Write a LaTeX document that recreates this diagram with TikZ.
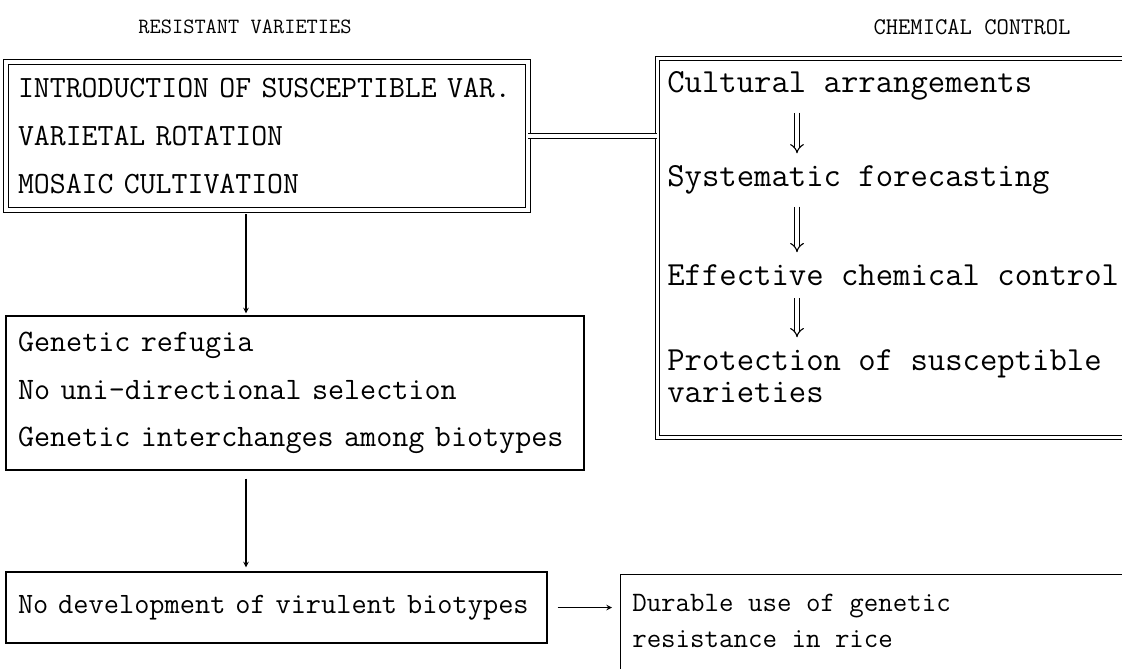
\documentclass[tikz,border=0pt]{standalone}
\usetikzlibrary{arrows.meta}
\tikzset{
  head/.style={font=\fontsize{#1}{#1}\selectfont\ttfamily},
  ltext/.style={font=\fontsize{#1}{34}\selectfont\ttfamily},
  rtext/.style={font=\fontsize{24}{22.7}\selectfont\ttfamily, anchor=west, inner sep=0pt, align=left},
  sbox/.style={draw, line width=0.9pt, inner xsep=0.3cm, align=left},
  dbox/.style={draw, double, double distance=2.4pt, line width=0.7pt, inner xsep=0.3cm, align=left},
  dblarrow/.style={double, double distance=2.6pt, line width=0.8pt, -{Implies[length=7pt, width=15pt]}, shorten <=0.3cm, shorten >=0.3cm},
}
\begin{document}
\begin{tikzpicture}
  \clip (0,0) rectangle (28.05,16.7);

  % headings
  \node[head=15.5] (hleft) at (6.125,16.03) {RESISTANT VARIETIES};
  \node[head=17] (hright) at (24.3,16.03) {CHEMICAL CONTROL};

  % left column
  \node[dbox, ltext=22, minimum width=13.05cm, minimum height=3.7cm, text width=12.45cm] (res) at (6.675,13.3)
    {INTRODUCTION OF SUSCEPTIBLE VAR.\\VARIETAL ROTATION\\MOSAIC CULTIVATION};
  \node[sbox, ltext=22.2, minimum width=14.45cm, minimum height=3.85cm, text width=13.85cm] (gen) at (7.375,6.875)
    {Genetic refugia\\No uni-directional selection\\Genetic interchanges among biotypes};
  \node[sbox, ltext=21, minimum width=13.525cm, minimum height=1.775cm, text width=12.925cm] (nodev) at (6.9125,1.5125)
    {No development of virulent biotypes};

  % right column
  \node[dbox, anchor=north west, minimum width=12.5cm, minimum height=9.475cm] (chembox) at (16.425,15.25) {};
  \node[rtext] (cult) at (16.675,14.55) {Cultural arrangements};
  \node[rtext] (fore) at (16.675,12.2) {Systematic forecasting};
  \node[rtext] (eff) at (16.675,9.825) {Effective chemical control};
  \node[rtext] (prot) at (16.675,7.3) {Protection of susceptible\\varieties};

  \node[sbox, anchor=north west, minimum width=13cm, minimum height=3.4cm] (dur) at (15.5,2.35) {};
  \node[anchor=north west, align=left, inner sep=0pt, font=\fontsize{20}{25.5}\selectfont\ttfamily] (durtxt) at (15.8,1.85)
    {Durable use of genetic\\resistance in rice};

  % connectors
  \coordinate (ax) at (6.15,0);
  \coordinate (dx) at (19.925,0);
  \draw[double, double distance=2.4pt, line width=0.7pt] (res.east) -- (res.east -| chembox.west);
  \draw[line width=0.8pt, -stealth, shorten <=0.1cm, shorten >=0.05cm] (ax |- res.south) -- (ax |- gen.north);
  \draw[line width=0.8pt, -stealth, shorten <=0.2cm, shorten >=0.1cm] (ax |- gen.south) -- (ax |- nodev.north);
  \draw[line width=0.8pt, -stealth, shorten <=0.25cm, shorten >=0.2cm] (nodev.east) -- (nodev.east -| dur.west);
  \draw[dblarrow] (dx |- cult.south) -- (dx |- fore.north);
  \draw[dblarrow] (dx |- fore.south) -- (dx |- eff.north);
  \draw[dblarrow] (dx |- eff.south) -- (dx |- prot.north);
\end{tikzpicture}
\end{document}
